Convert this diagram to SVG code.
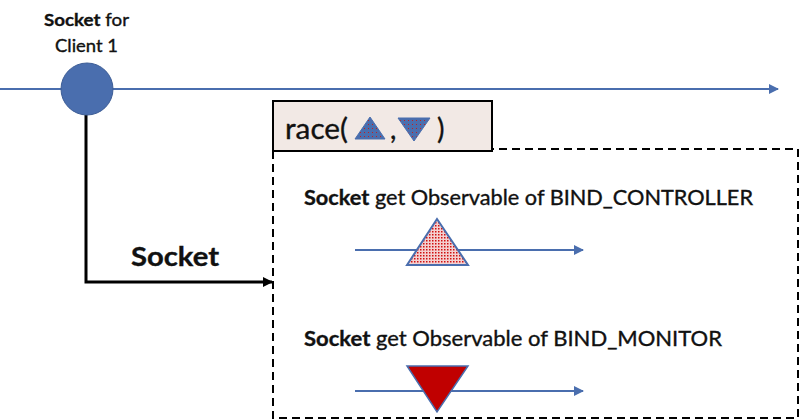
<svg xmlns="http://www.w3.org/2000/svg" width="800" height="420" viewBox="0 0 800 420">
<style>
  .t { font-family: Lato, "Open Sans", "Liberation Sans", sans-serif; fill: #111; stroke: #111; stroke-width: 0.35; }
  .b { font-weight: bold; }
  .blue { stroke: #4a6eae; fill: none; }
</style>
<defs>
  <marker id="ab" markerWidth="10" markerHeight="10" refX="9" refY="5" orient="auto" markerUnits="userSpaceOnUse">
    <path d="M0,0 L10,5 L0,10 z" fill="#4a6eae"/>
  </marker>
  <marker id="ak" markerWidth="10" markerHeight="10" refX="9" refY="5" orient="auto" markerUnits="userSpaceOnUse">
    <path d="M0,0 L10,5 L0,10 z" fill="#000"/>
  </marker>
  <pattern id="redDots" width="3" height="3" patternUnits="userSpaceOnUse">
    <rect width="3" height="3" fill="#f4d0d0"/>
    <rect width="1.5" height="1.5" fill="#d01010"/>
  </pattern>
  <pattern id="blueDots" width="4" height="4" patternUnits="userSpaceOnUse">
    <rect width="4" height="4" fill="#4a6eae"/>
    <rect width="1" height="1" fill="#c02020"/>
  </pattern>
</defs>

<g id="connectors">
  <line class="blue" x1="0" y1="89" x2="778" y2="89" stroke-width="2" marker-end="url(#ab)"/>
  <polyline points="86,115 86,282 272,282" fill="none" stroke="#000" stroke-width="3" marker-end="url(#ak)"/>
  <text class="t b" x="131" y="266" font-size="27" textLength="88" lengthAdjust="spacingAndGlyphs">Socket</text>
</g>

<g id="socket-node">
  <circle cx="87" cy="89" r="26" fill="#4a6eae" stroke="#3d5d96" stroke-width="1"/>
  <text class="t" x="44" y="26" font-size="17.5" textLength="85" lengthAdjust="spacingAndGlyphs"><tspan class="b">Socket</tspan> for</text>
  <text class="t" x="55" y="52" font-size="17.5" textLength="63" lengthAdjust="spacingAndGlyphs">Client 1</text>
</g>

<g id="race-group">
  <path d="M273,151 L273,418 L798,418 L798,149 L492,149" fill="none" stroke="#000" stroke-width="2" stroke-dasharray="8,5"/>
  <rect x="273" y="101" width="219" height="50" fill="#f2e9e5" stroke="#000" stroke-width="2"/>
  <text class="t" x="285" y="139" font-size="28.5" textLength="63" lengthAdjust="spacingAndGlyphs">race(</text>
  <polygon points="355,139 370,117 385,139" fill="url(#blueDots)" stroke="#4a6eae" stroke-width="1"/>
  <text class="t" x="390" y="139" font-size="28">,</text>
  <polygon points="398,118 430,118 414,141" fill="url(#blueDots)" stroke="#4a6eae" stroke-width="1"/>
  <text class="t" x="437" y="139" font-size="28">)</text>
</g>

<g id="controller">
  <text class="t" x="304" y="205" font-size="20.5" textLength="449" lengthAdjust="spacingAndGlyphs"><tspan class="b">Socket</tspan> get Observable  of BIND_CONTROLLER</text>
  <line class="blue" x1="355" y1="250" x2="583" y2="250" stroke-width="2" marker-end="url(#ab)"/>
  <polygon points="407,265 437,219 468,265" fill="url(#redDots)" stroke="#4a6eae" stroke-width="2"/>
</g>

<g id="monitor">
  <text class="t" x="304" y="346" font-size="20.5" textLength="418" lengthAdjust="spacingAndGlyphs"><tspan class="b">Socket</tspan> get Observable  of BIND_MONITOR</text>
  <line class="blue" x1="355" y1="391" x2="583" y2="391" stroke-width="2" marker-end="url(#ab)"/>
  <polygon points="407,366 468,366 437,412" fill="#c00000" stroke="#4a6eae" stroke-width="1.5"/>
</g>
</svg>
